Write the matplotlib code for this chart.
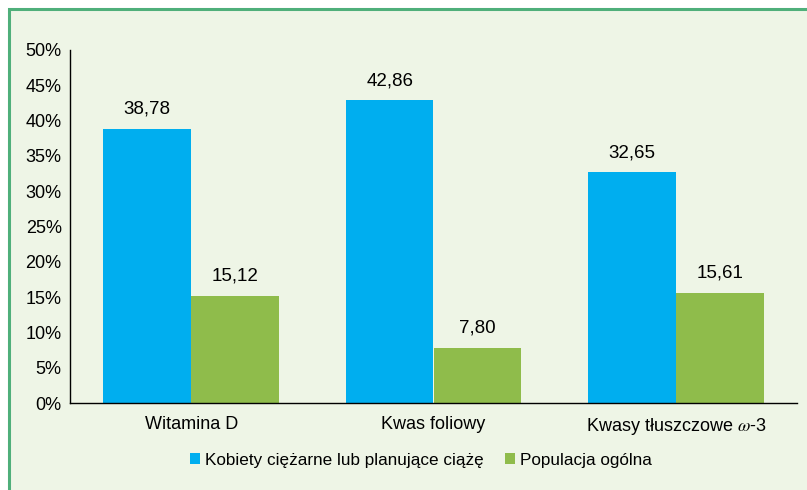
import matplotlib
matplotlib.use("Agg")
import matplotlib.pyplot as plt
from matplotlib.patches import Rectangle
import numpy as np

plt.rcParams['font.family'] = ['Liberation Sans Narrow', 'Liberation Sans', 'DejaVu Sans']
plt.rcParams['mathtext.fontset'] = 'stix'

categories = ["Witamina D", "Kwas foliowy", "Kwasy tłuszczowe $\\omega$-3"]
series_names = ["Kobiety ciężarne lub planujące ciążę", "Populacja ogólna"]
women = [38.78, 42.86, 32.65]
general = [15.12, 7.80, 15.61]
yticks = [0, 5, 10, 15, 20, 25, 30, 35, 40, 45, 50]

blue = "#00AEEF"
green = "#8FBC4B"
bg = "#EEF5E6"

W, H = 807, 490
fig = plt.figure(figsize=(W / 100, H / 100), dpi=100)
fig.patch.set_facecolor("white")
frame = Rectangle((9 / W, -0.05), 1.2, 1 - 9 / H + 0.05, transform=fig.transFigure,
                  facecolor=bg, edgecolor="#4FAF7A", linewidth=2.2, zorder=-10)
fig.patches.append(frame)

ax = fig.add_axes([70 / W, 1 - 403 / H, (797 - 70) / W, (403 - 50) / H])
ax.set_facecolor("none")
ax.set_zorder(5)

x = np.arange(len(categories))
bw = 0.362
b1 = ax.bar(x - bw / 2, women, bw, color=blue, label=series_names[0])
b2 = ax.bar(x + bw / 2, general, bw, color=green, label=series_names[1])

for bars, vals in ((b1, women), (b2, general)):
    for r, v in zip(bars, vals):
        ax.text(r.get_x() + r.get_width() / 2, v + 1.6, f"{v:.2f}".replace(".", ","),
                ha="center", va="bottom", fontsize=13.5)

ax.set_xlim(-0.5, 2.5)
ax.set_ylim(0, 50)
ax.set_yticks(yticks)
ax.set_yticklabels([f"{t}%" for t in yticks])
ax.set_xticks(x)
ax.set_xticklabels(categories)
ax.tick_params(axis="both", length=0, labelsize=13)
ax.tick_params(axis="y", pad=6)
ax.tick_params(axis="x", pad=9)
for s in ("top", "right"):
    ax.spines[s].set_visible(False)
for s in ("left", "bottom"):
    ax.spines[s].set_color("black")
    ax.spines[s].set_linewidth(1.0)

fig.legend(handles=[b1, b2], labels=series_names, loc="center", bbox_to_anchor=(421 / W, 1 - 460 / H),
           ncol=2, frameon=False, fontsize=12.3, handlelength=0.6, handleheight=0.6,
           handletextpad=0.3, columnspacing=1.2)

fig.savefig("out.png", dpi=100)
